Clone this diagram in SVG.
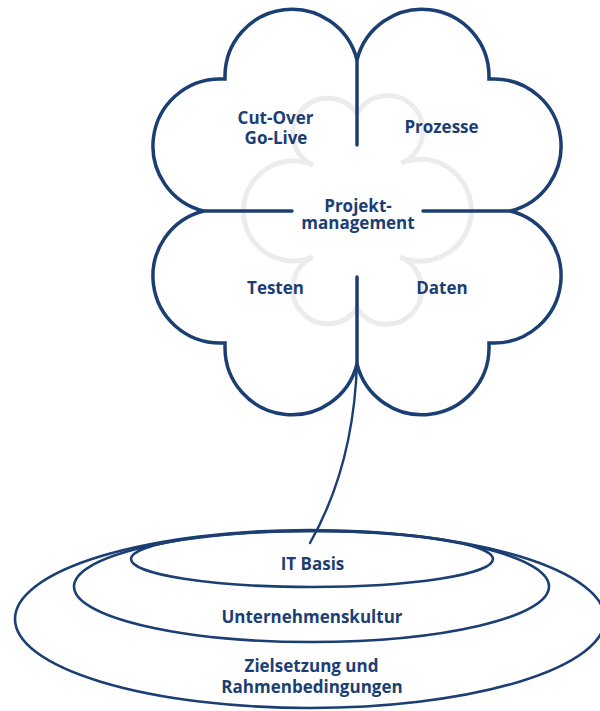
<svg xmlns="http://www.w3.org/2000/svg" width="600" height="711" viewBox="0 0 600 711">
<style>
.ln{fill:none;stroke:#1b3e73;stroke-linecap:round;stroke-linejoin:miter}
.cl{stroke-width:3.5}
.el{stroke-width:2.6}
.gr{fill:none;stroke:#ececec;stroke-width:5}
.t{font-family:"Open Sans","Noto Sans",sans-serif;font-weight:700;fill:#1b3e73;text-anchor:middle}
.t1{font-size:17px}
.t2{font-size:17px}
</style>
<rect width="600" height="711" fill="#ffffff"/>
<g id="flower-bg">
<path class="gr" d="M313,165 A35 35 0 1 1 357,114 A35 35 0 1 1 401,163 A51 51 0 1 1 400,257 A35 35 0 1 1 357,308 A35 35 0 1 1 313,257 A50 50 0 1 1 313,165 Z"/>
</g>
<g id="clover">
<path class="ln cl" d="M357,60 A67 67 0 0 0 225,76 L225,79 L220,79 A67 67 0 0 0 203.7,211 A67 67 0 0 0 220,343 L225,343 L225,348 A67 67 0 0 0 357,364 A67 67 0 0 0 489,348 L489,343 L494,343 A67 67 0 0 0 510.3,211 A67 67 0 0 0 494,79 L489,79 L489,76 A67 67 0 0 0 357,60 Z"/>
</g>
<g id="connectors">
<path class="ln cl" d="M357,60 L357,145"/>
<path class="ln cl" d="M203.7,211 L292,211"/>
<path class="ln cl" d="M423,211 L510.3,211"/>
<path class="ln cl" d="M357,277 L357,364"/>
<path class="ln" stroke-width="2.4" d="M357,362 C355,430 340,490 310,543"/>
</g>
<g id="ring-outer"><ellipse class="ln el" stroke-width="3" cx="310" cy="619" rx="295" ry="89"/></g>
<g id="ring-middle"><ellipse class="ln el" cx="311.5" cy="586.5" rx="237.5" ry="55.5"/></g>
<g id="ring-inner"><ellipse class="ln el" cx="312" cy="559" rx="181" ry="28"/></g>
<g id="labels">
<text class="t t1" x="275.5" y="124">Cut-Over</text>
<text class="t t1" x="276" y="144">Go-Live</text>
<text class="t t1" x="441.5" y="133">Prozesse</text>
<text class="t t1" x="358" y="212">Projekt-</text>
<text class="t t1" x="358" y="229">management</text>
<text class="t t1" x="275.5" y="294">Testen</text>
<text class="t t1" x="442" y="293.5">Daten</text>
<text class="t t2" x="312.5" y="569.5">IT Basis</text>
<text class="t t2" x="312" y="622.5">Unternehmenskultur</text>
<text class="t t2" x="311.5" y="672">Zielsetzung und</text>
<text class="t t2" x="312" y="692.5">Rahmenbedingungen</text>
</g>
</svg>
